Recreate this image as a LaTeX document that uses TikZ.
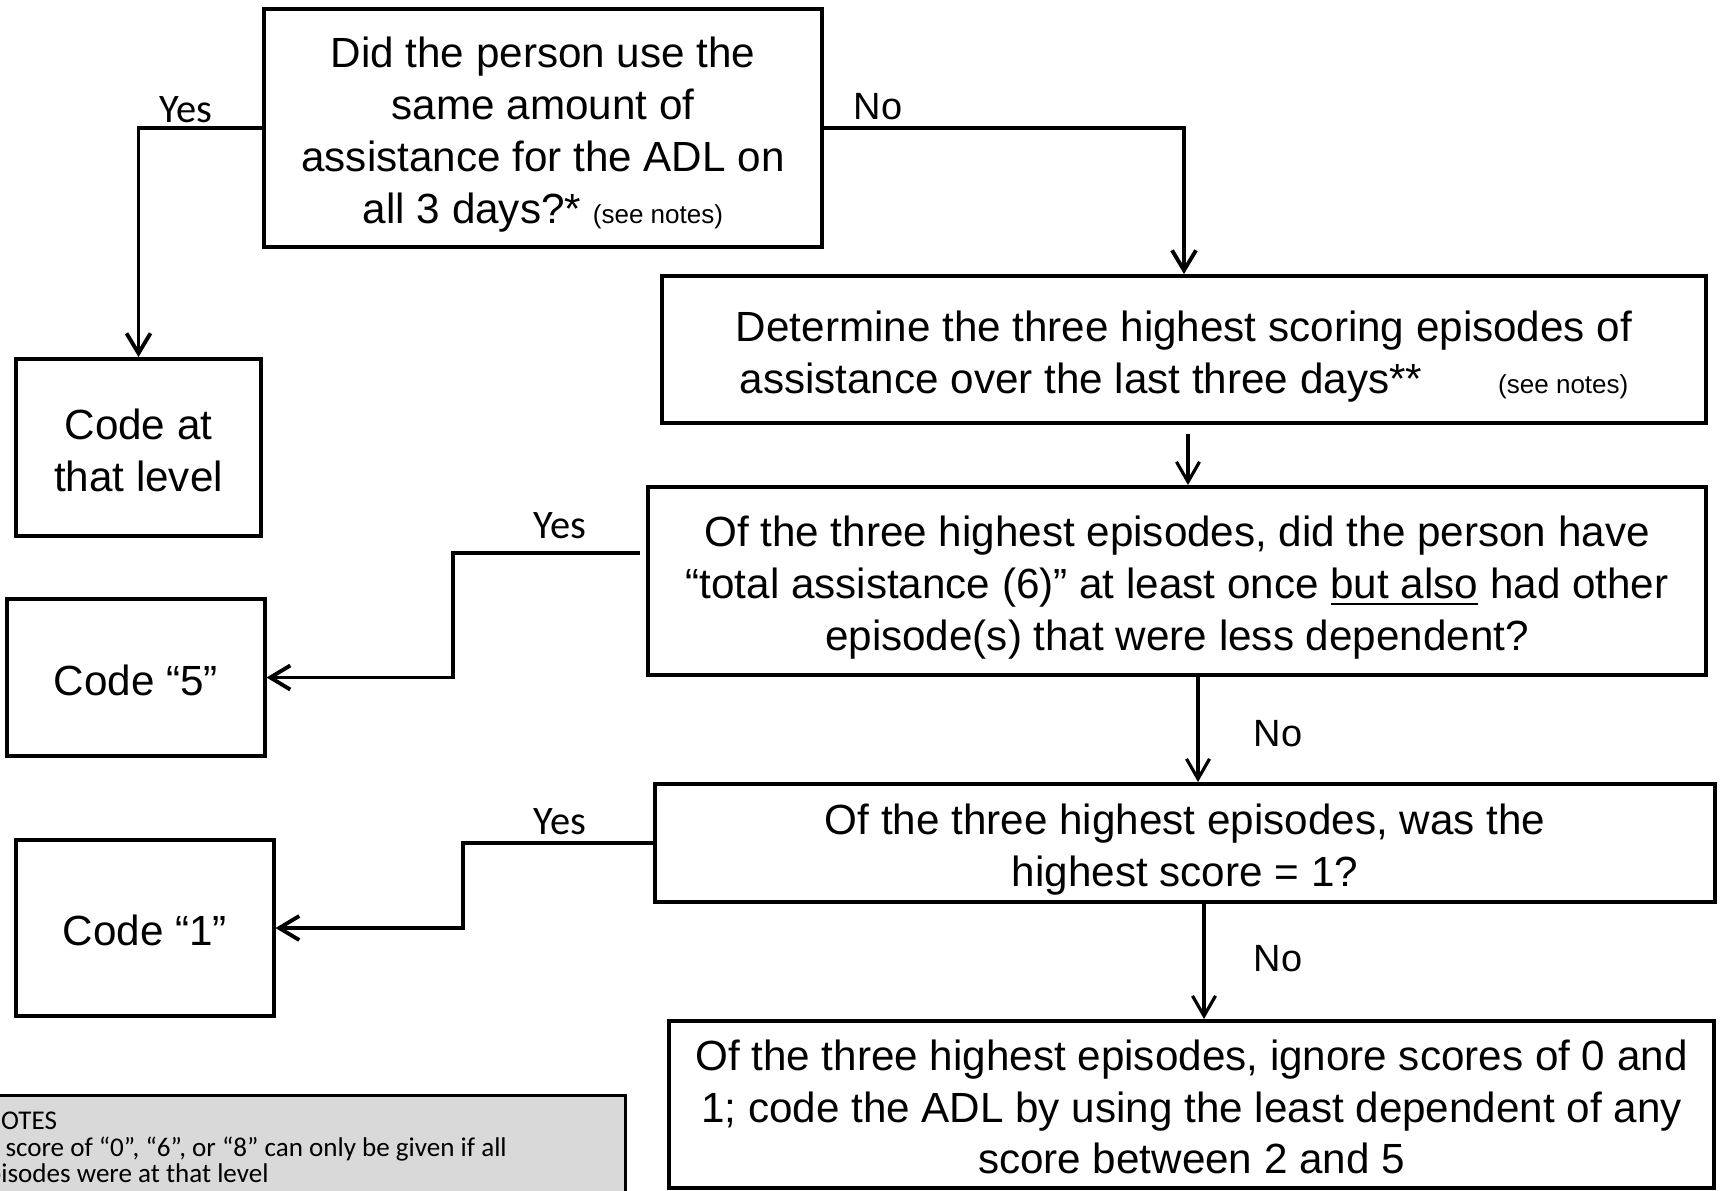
\documentclass[tikz,border=0pt]{standalone}
\usepackage{fontspec}
\setmainfont{Liberation Sans}
\newfontfamily\notefont{Carlito}
\usetikzlibrary{arrows.meta,calc}
\tikzstyle{box}=[draw, line width=1.1pt, align=center, inner sep=0pt, font=\fontsize{12}{14.75}\selectfont]
\tikzstyle{yes}=[inner sep=0pt, font=\notefont\fontsize{11.5}{12}\selectfont]
\tikzstyle{no}=[inner sep=0pt, font=\fontsize{10.8}{12}\selectfont]
\tikzstyle{link}=[line width=1.1pt, -{Straight Barb[length=2mm,width=2.4mm]}]
\tikzstyle{thin link}=[line width=0.9pt, -{Straight Barb[length=2mm,width=2.3mm]}]
\tikzstyle{notebox}=[draw, line width=0.8pt, fill=black!15]
\newcommand{\seenotes}{{\fontsize{7.4}{8}\selectfont (see notes)}}
\newcommand{\boxtop}{\rule{0pt}{13pt}}
\newcommand{\boxbot}{\rule[-3pt]{0pt}{0pt}}

\begin{document}
\begin{tikzpicture}[x=0.01cm, y=-0.01cm]
    \useasboundingbox (0,0) rectangle (1727,1190);
    \clip (0,0) rectangle (1727,1190);
% Questions
    \node[box, minimum width=5.58cm, minimum height=2.38cm] (q1) at (543,128)
        {\boxtop Did the person use the\\same amount of\\assistance for the ADL on\\all 3 days?* \seenotes\boxbot};
    \node[box, minimum width=10.44cm, minimum height=1.47cm] (q2) at (1184,349.5)
        {\boxtop Determine the three highest scoring episodes of\\assistance over the last three days**\hspace{0.76cm}\seenotes\boxbot};
    \node[box, minimum width=10.58cm, minimum height=1.88cm] (q3) at (1177,581)
        {\boxtop Of the three highest episodes, did the person have\\“total assistance (6)” at least once \underline{but also} had other\\episode(s) that were less dependent?\boxbot};
    \node[box, minimum width=10.6cm, minimum height=1.18cm] (q4) at (1185,843)
        {\boxtop Of the three highest episodes, was the\\highest score = 1?\boxbot};
    \node[box, minimum width=10.45cm, minimum height=1.67cm] (q5) at (1191.5,1104.5)
        {\boxtop Of the three highest episodes, ignore scores of 0 and\\1; code the ADL by using the least dependent of any\\score between 2 and 5\boxbot};
% Codes
    \node[box, minimum width=2.45cm, minimum height=1.77cm] (level) at (138.5,447.5) {\boxtop Code at\\that level\boxbot};
    \node[box, minimum width=2.57cm, minimum height=1.57cm] (five) at (136,677.5) {\boxtop Code “5”\boxbot};
    \node[box, minimum width=2.57cm, minimum height=1.76cm] (one) at (145,928) {\boxtop Code “1”\boxbot};
% Yes branches
    \draw[link] (q1.west) -| (level.north);
    \node[yes] (yes1) at (186,110) {Yes};
    \coordinate (y5) at (640,553);
    \draw[link] (y5) -- ++(-187,0) |- (five.east);
    \node[yes] (yes2) at (560,526) {Yes};
    \draw[link] (q4.west) -- ++(-190,0) |- (one.east);
    \node[yes] (yes3) at (560,822) {Yes};
% No branches
    \draw[link] (q1.east) -| (q2.north);
    \node[no] (no1) at (878,107) {No};
    \draw[thin link] ($(q2.south)+(4,9)$) -- ($(q3.north)+(11,0)$);
    \draw[thin link] ($(q3.south)+(21,0)$) -- ($(q4.north)+(13,0)$);
    \node[no] (no2) at (1278,734) {No};
    \draw[thin link] ($(q4.south)+(19,0)$) -- ($(q5.north)+(12.5,0)$);
    \node[no] (no3) at (1278,959) {No};
% Notes
    \node[notebox, anchor=north west, minimum width=6.6cm, minimum height=1.5cm] (notes) at (-36,1094) {};
    \node[anchor=base west, align=left, inner sep=0pt, font=\notefont\fontsize{7.7}{7.4}\selectfont] (notetext) at (-17,1182)
        {NOTES\\A score of “0”, “6”, or “8” can only be given if all\\\hspace*{-0.1cm}episodes were at that level};
\end{tikzpicture}
\end{document}
